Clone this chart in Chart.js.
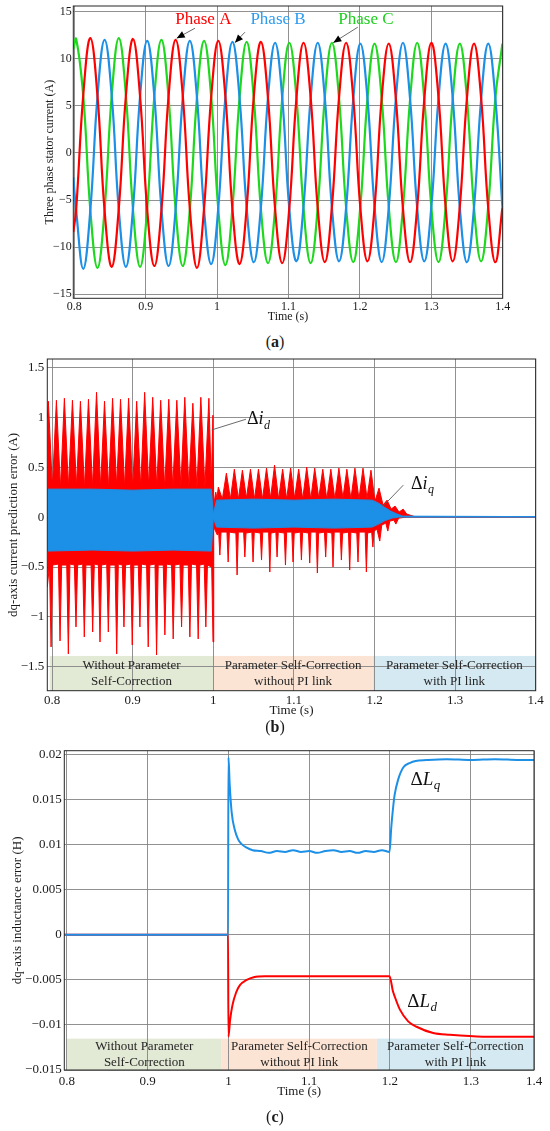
<!DOCTYPE html>
<html>
<head>
<meta charset="utf-8">
<script src="https://cdn.jsdelivr.net/npm/chart.js@4.4.1/dist/chart.umd.min.js"></script>
<style>
  html, body { margin: 0; padding: 0; background: #fff; }
  body { width: 550px; height: 1131px; position: relative; overflow: hidden; font-family: "Liberation Serif", "Times New Roman", serif; }
  .panel { position: absolute; left: 0; width: 550px; }
  .cap { position: absolute; left: 0; width: 550px; text-align: center; font-size: 16px; line-height: 20px; color: #1a1a1a; }
</style>
</head>
<body>
<div class="panel" style="top:0;height:324px"><canvas id="chartA"></canvas></div>
<div class="cap" style="top:332px">(<b>a</b>)</div>
<div class="panel" style="top:350px;height:368px"><canvas id="chartB"></canvas></div>
<div class="cap" style="top:717px">(<b>b</b>)</div>
<div class="panel" style="top:740px;height:359px"><canvas id="chartC"></canvas></div>
<div class="cap" style="top:1107px">(<b>c</b>)</div>

<script>
const SERIF = '"Liberation Serif", "Times New Roman", serif';
const INK = '#1a1a1a';
const GRID = '#858585';
const RED = '#ff0000';
const BLUE = '#1c8fe6';
const GREEN = '#1ed81e';

// ---- (a) three phase stator current, sampled every 1/6 period ----
const timeA = [0.7986,
  0.8026, 0.8126, 0.8225, 0.8325, 0.8424, 0.8524,
  0.8623, 0.8723, 0.8822, 0.8922, 0.9021, 0.9121,
  0.9220, 0.9320, 0.9419, 0.9519, 0.9618, 0.9718,
  0.9817, 0.9917, 1.0016, 1.0116, 1.0215, 1.0315,
  1.0414, 1.0514, 1.0613, 1.0713, 1.0812, 1.0912,
  1.1011, 1.1111, 1.1210, 1.1310, 1.1409, 1.1509,
  1.1608, 1.1708, 1.1807, 1.1907, 1.2006, 1.2106,
  1.2205, 1.2305, 1.2404, 1.2504, 1.2603, 1.2703,
  1.2802, 1.2902, 1.3001, 1.3101, 1.3200, 1.3300,
  1.3399, 1.3499, 1.3598, 1.3698, 1.3797, 1.3897,
  1.3996];
const phaseA = [-8.4,
  -6.0, 6.2, 12.2, 6.0, -6.1, -12.1,
  -5.9, 6.1, 12.1, 5.9, -6.0, -12.0,
  -6.1, 6.0, 12.0, 6.1, -5.9, -12.2,
  -5.9, 5.9, 11.9, 6.0, -6.0, -11.8,
  -5.8, 6.0, 11.8, 5.8, -5.9, -11.7,
  -5.9, 5.8, 11.7, 5.9, -5.8, -11.6,
  -5.7, 5.9, 11.7, 5.8, -5.8, -11.5,
  -5.8, 5.8, 11.6, 5.7, -5.9, -11.6,
  -5.8, 5.7, 11.7, 5.9, -5.7, -11.5,
  -5.7, 5.8, 11.6, 5.8, -5.8, -11.6,
  -5.8];
const phaseB = [-2.6,
  -6.1, -12.3, -6.0, 6.0, 12.0, 6.1,
  -6.0, -12.1, -5.9, 6.1, 11.9, 6.0,
  -5.9, -12.0, -6.0, 5.9, 11.9, 5.9,
  -6.0, -11.8, -5.9, 5.9, 11.8, 5.8,
  -5.8, -11.6, -5.8, 5.9, 11.7, 5.9,
  -5.9, -11.5, -5.7, 5.8, 11.7, 5.8,
  -5.8, -11.5, -5.8, 5.7, 11.6, 5.8,
  -5.7, -11.6, -5.8, 5.8, 11.7, 5.7,
  -5.8, -11.5, -5.7, 5.8, 11.6, 5.8,
  -5.8, -11.6, -5.8, 5.7, 11.6, 5.8,
  -5.8];
const phaseC = [11.0,
  12.1, 6.0, -6.1, -12.2, -6.0, 6.1,
  12.2, 6.1, -6.0, -12.1, -5.9, 6.0,
  12.0, 5.9, -6.0, -12.0, -6.0, 5.9,
  11.9, 6.0, -5.9, -11.9, -5.8, 5.9,
  11.8, 5.8, -5.9, -11.7, -5.9, 5.8,
  11.7, 5.9, -5.8, -11.7, -5.8, 5.9,
  11.7, 5.8, -5.8, -11.6, -5.7, 5.8,
  11.6, 5.8, -5.7, -11.6, -5.8, 5.7,
  11.7, 5.7, -5.8, -11.6, -5.8, 5.8,
  11.6, 5.8, -5.8, -11.5, -5.7, 5.8,
  11.6];

const xTicks = [0.8, 0.9, 1, 1.1, 1.2, 1.3, 1.4];
const xLabels = ['0.8', '0.9', '1', '1.1', '1.2', '1.3', '1.4'];
const yTicksA = [-15, -10, -5, 0, 5, 10, 15];
const yLabelsA = ['\u221215', '\u221210', '\u22125', '0', '5', '10', '15'];

// ---- (b) dq-axis current prediction error: envelopes of the ripple [t, value] ----
const idUpper = [[0.794, 1.0],
  [0.7953, 1.16], [0.8003, 0.30], [0.8053, 1.17], [0.8103, 0.29], [0.8152, 1.19], [0.8202, 0.30],
  [0.8252, 1.17], [0.8302, 0.31], [0.8351, 1.16], [0.8401, 0.29], [0.8451, 1.18], [0.8501, 0.30],
  [0.8551, 1.25], [0.8601, 0.30], [0.8650, 1.16], [0.8700, 0.29], [0.8750, 1.19], [0.8800, 0.31],
  [0.8849, 1.18], [0.8899, 0.30], [0.8949, 1.19], [0.8999, 0.29], [0.9049, 1.16], [0.9099, 0.30],
  [0.9148, 1.25], [0.9198, 0.31], [0.9248, 1.20], [0.9298, 0.30], [0.9347, 1.17], [0.9397, 0.29],
  [0.9447, 1.18], [0.9497, 0.30], [0.9547, 1.17], [0.9597, 0.31], [0.9646, 1.20], [0.9696, 0.30],
  [0.9746, 1.14], [0.9796, 0.29], [0.9845, 1.20], [0.9895, 0.30], [0.9945, 1.19], [0.9975, 0.32],
  [0.9995, 1.02], [1.0005, 0.12], [1.0030, 0.25], [1.0045, 0.19], [1.0062, 0.30], [1.0112, 0.18],
  [1.0162, 0.44], [1.0212, 0.18], [1.0261, 0.48], [1.0311, 0.18], [1.0361, 0.47], [1.0411, 0.19],
  [1.0461, 0.48], [1.0511, 0.18], [1.0560, 0.48], [1.0610, 0.18], [1.0660, 0.49], [1.0710, 0.19],
  [1.0760, 0.52], [1.0810, 0.18], [1.0860, 0.48], [1.0910, 0.18], [1.0959, 0.49], [1.1009, 0.19],
  [1.1059, 0.48], [1.1109, 0.18], [1.1159, 0.50], [1.1209, 0.18], [1.1258, 0.49], [1.1308, 0.19],
  [1.1358, 0.48], [1.1408, 0.18], [1.1458, 0.48], [1.1508, 0.18], [1.1558, 0.49], [1.1608, 0.19],
  [1.1657, 0.48], [1.1707, 0.18], [1.1757, 0.49], [1.1807, 0.18], [1.1857, 0.49], [1.1907, 0.19],
  [1.1956, 0.47], [1.2006, 0.16], [1.2056, 0.29], [1.2106, 0.12], [1.2156, 0.17], [1.2206, 0.08],
  [1.2255, 0.11], [1.2305, 0.05], [1.2355, 0.08], [1.2400, 0.03], [1.2500, 0.005], [1.4000, 0.005]];

const idLower = [[0.794, -0.70],
  [0.7967, -0.48], [0.7987, -1.30], [0.8007, -0.48], [0.8078, -0.47], [0.8098, -1.24], [0.8118, -0.48],
  [0.8181, -0.48], [0.8201, -1.37], [0.8221, -0.47], [0.8276, -0.48], [0.8296, -1.10], [0.8316, -0.48],
  [0.8379, -0.47], [0.8399, -1.20], [0.8419, -0.48], [0.8483, -0.48], [0.8503, -1.15], [0.8523, -0.47],
  [0.8574, -0.48], [0.8594, -1.25], [0.8614, -0.48], [0.8677, -0.47], [0.8697, -1.15], [0.8717, -0.48],
  [0.8781, -0.48], [0.8801, -1.37], [0.8821, -0.47], [0.8871, -0.48], [0.8891, -1.10], [0.8911, -0.48],
  [0.8974, -0.47], [0.8994, -1.28], [0.9014, -0.48], [0.9069, -0.48], [0.9089, -1.10], [0.9109, -0.47],
  [0.9172, -0.48], [0.9192, -1.30], [0.9212, -0.48], [0.9276, -0.47], [0.9296, -1.38], [0.9316, -0.48],
  [0.9379, -0.48], [0.9399, -1.18], [0.9419, -0.47], [0.9482, -0.48], [0.9502, -1.22], [0.9522, -0.48],
  [0.9586, -0.47], [0.9606, -1.10], [0.9626, -0.48], [0.9689, -0.48], [0.9709, -1.20], [0.9729, -0.47],
  [0.9792, -0.48], [0.9812, -1.22], [0.9832, -0.48], [0.9887, -0.47], [0.9907, -1.10], [0.9927, -0.48],
  [0.9980, -0.50], [0.9996, -1.25], [1.0005, -0.10],
  [1.0050, -0.18], [1.0066, -0.15], [1.0081, -0.38], [1.0096, -0.15],
  [1.0169, -0.15], [1.0184, -0.45], [1.0199, -0.15], [1.0280, -0.16], [1.0295, -0.58], [1.0310, -0.15],
  [1.0376, -0.15], [1.0391, -0.40], [1.0406, -0.16], [1.0478, -0.15], [1.0493, -0.45], [1.0508, -0.15],
  [1.0583, -0.16], [1.0598, -0.43], [1.0613, -0.15], [1.0686, -0.15], [1.0701, -0.55], [1.0716, -0.16],
  [1.0776, -0.15], [1.0791, -0.40], [1.0806, -0.15], [1.0880, -0.16], [1.0895, -0.48], [1.0910, -0.15],
  [1.0974, -0.15], [1.0989, -0.45], [1.1004, -0.16], [1.1078, -0.15], [1.1093, -0.43], [1.1108, -0.15],
  [1.1181, -0.16], [1.1196, -0.46], [1.1211, -0.15], [1.1276, -0.15], [1.1291, -0.56], [1.1306, -0.16],
  [1.1379, -0.15], [1.1394, -0.40], [1.1409, -0.15], [1.1470, -0.16], [1.1485, -0.50], [1.1500, -0.15],
  [1.1574, -0.15], [1.1589, -0.43], [1.1604, -0.16], [1.1677, -0.15], [1.1692, -0.53], [1.1707, -0.15],
  [1.1780, -0.16], [1.1795, -0.45], [1.1810, -0.15], [1.1884, -0.15], [1.1899, -0.55], [1.1914, -0.16],
  [1.1965, -0.15], [1.1980, -0.30], [1.1995, -0.14], [1.2030, -0.12], [1.2065, -0.24], [1.2090, -0.08],
  [1.2140, -0.06], [1.2165, -0.14], [1.2190, -0.04], [1.2240, -0.03], [1.2265, -0.07], [1.2300, -0.01],
  [1.2400, 0.0], [1.4000, 0.0]];

const iqUpper = [[0.794, 0.28], [0.85, 0.28], [0.90, 0.27], [0.95, 0.28], [0.9975, 0.28], [1.0, 0.03],
  [1.004, 0.17], [1.05, 0.18], [1.10, 0.17], [1.15, 0.18], [1.197, 0.17], [1.205, 0.14], [1.212, 0.10],
  [1.220, 0.06], [1.228, 0.03], [1.235, 0.01], [1.4, 0.005]];
const iqLower = [[0.794, -0.34], [0.85, -0.33], [0.90, -0.34], [0.95, -0.33], [0.9975, -0.34], [1.0, -0.01],
  [1.004, -0.10], [1.05, -0.11], [1.10, -0.10], [1.15, -0.11], [1.197, -0.10], [1.205, -0.07], [1.213, -0.035],
  [1.222, -0.01], [1.230, 0.0], [1.4, 0.0]];

const yTicksB = [-1.5, -1, -0.5, 0, 0.5, 1, 1.5];
const yLabelsB = ['\u22121.5', '\u22121', '\u22120.5', '0', '0.5', '1', '1.5'];

// ---- (c) dq-axis inductance error [t, value] ----
const dLq = [[0.7968, 0], [0.9995, 0], [1.0, 0.0197], [1.0015, 0.0168], [1.004, 0.0136], [1.008, 0.0116],
  [1.012, 0.0106], [1.016, 0.0101], [1.022, 0.0097], [1.03, 0.0094], [1.04, 0.0093], [1.05, 0.0091],
  [1.06, 0.0093], [1.07, 0.0092], [1.08, 0.0094], [1.09, 0.0092], [1.10, 0.0093], [1.11, 0.0091],
  [1.12, 0.0093], [1.13, 0.0094], [1.14, 0.0092], [1.15, 0.0093], [1.16, 0.0091], [1.17, 0.0093],
  [1.18, 0.0092], [1.19, 0.0094], [1.1995, 0.0092], [1.2015, 0.0118], [1.2035, 0.0138], [1.2057, 0.0155],
  [1.21, 0.0172], [1.2166, 0.0186], [1.225, 0.0191], [1.2318, 0.0193], [1.245, 0.0194], [1.27, 0.0195],
  [1.30, 0.0194], [1.33, 0.0195], [1.36, 0.0194], [1.3783, 0.0194]];
const dLd = [[0.7968, 0], [0.9995, 0], [1.0, -0.0113], [1.002, -0.0095], [1.005, -0.0078], [1.0095, -0.0064],
  [1.014, -0.0056], [1.0227, -0.0050], [1.0313, -0.0047], [1.045, -0.0046], [1.1, -0.0046], [1.1995, -0.0046],
  [1.2035, -0.0062], [1.2061, -0.0069], [1.2123, -0.0083], [1.2225, -0.0096], [1.2329, -0.0102],
  [1.2535, -0.0109], [1.2741, -0.0111], [1.3153, -0.0113], [1.3783, -0.0113]];

// the original axis stops short of 1.4 but the last label still reads 1.4
const xTicksC = [0.8, 0.9, 1, 1.1, 1.2, 1.3, 1.3783];
const yTicksC = [-0.015, -0.01, -0.005, 0, 0.005, 0.01, 0.015, 0.02];
const yLabelsC = ['\u22120.015', '\u22120.01', '\u22120.005', '0', '0.005', '0.01', '0.015', '0.02'];

// stage boxes along the bottom of (b) and (c)
const stageText = [['Without Parameter', 'Self-Correction'], ['Parameter Self-Correction', 'without PI link'], ['Parameter Self-Correction', 'with PI link']];
const stagesB = [[0.797, 1.0], [1.0, 1.198], [1.198, 1.4]];
const stagesC = [[0.8, 0.9917], [0.9917, 1.1838], [1.1838, 1.3783]];
const stageFill = ['#e2e9d5', '#fce4d4', '#d4e9f1'];

const pts = (xs, ys) => xs.map((x, i) => ({ x: x, y: ys[i] }));
const pairs = arr => arr.map(p => ({ x: p[0], y: p[1] }));

function xAxis(o) {
  return {
    type: 'linear', min: o.min, max: o.max,
    afterBuildTicks: s => { s.ticks = o.ticks.map(v => ({ value: v })); },
    afterFit: s => { s.height = o.height; s.paddingLeft = 0; s.paddingRight = 0; },
    ticks: { font: { family: SERIF, size: o.size }, color: INK, padding: o.pad, maxRotation: 0, autoSkip: false,
      callback: (v, i) => xLabels[i] },
    grid: { color: GRID, lineWidth: 0.9, drawTicks: false },
    border: { display: false },
    title: { display: true, text: 'Time (s)', color: INK, font: { family: SERIF, size: o.titleSize }, padding: 0 }
  };
}

function yAxis(o) {
  return {
    type: 'linear', min: o.min, max: o.max,
    afterBuildTicks: s => { s.ticks = o.ticks.map(v => ({ value: v })); },
    afterFit: s => { s.width = o.width; s.paddingTop = 0; s.paddingBottom = 0; },
    ticks: { font: { family: SERIF, size: o.size }, color: INK, padding: o.pad, autoSkip: false,
      callback: (v, i) => o.labels[i] },
    grid: { color: GRID, lineWidth: 0.9, drawTicks: false },
    border: { display: false },
    title: { display: true, text: o.title, color: INK, font: { family: SERIF, size: o.titleSize }, padding: { top: o.titlePad, bottom: 0 } }
  };
}

function baseOptions(padding, x, y) {
  return {
    responsive: true, maintainAspectRatio: false, animation: false,
    layout: { padding: padding },
    plugins: { legend: { display: false }, tooltip: { enabled: false } },
    elements: { point: { radius: 0 } },
    scales: { x: x, y: y }
  };
}

const frame = {
  id: 'frame',
  afterDraw(chart) {
    const a = chart.chartArea, ctx = chart.ctx;
    ctx.save();
    ctx.strokeStyle = '#262626';
    ctx.lineWidth = 1;
    ctx.strokeRect(a.left, a.top, a.right - a.left, a.bottom - a.top);
    ctx.restore();
  }
};

function stagePlugin(stages, top) {
  return {
    id: 'stages',
    beforeDraw(chart) {
      const { ctx, chartArea: a, scales: { x, y } } = chart;
      const yt = y.getPixelForValue(top);
      ctx.save();
      stages.forEach((s, i) => {
        const x0 = x.getPixelForValue(s[0]), x1 = x.getPixelForValue(s[1]);
        ctx.fillStyle = stageFill[i];
        ctx.fillRect(x0, yt, x1 - x0, a.bottom - yt);
      });
      ctx.restore();
    },
    afterDatasetsDraw(chart) {
      const { ctx, chartArea: a, scales: { x, y } } = chart;
      const yt = y.getPixelForValue(top);
      const mid = (yt + a.bottom) / 2;
      ctx.save();
      ctx.fillStyle = '#262626';
      ctx.font = '13px ' + SERIF;
      ctx.textAlign = 'center';
      ctx.textBaseline = 'middle';
      stages.forEach((s, i) => {
        const cx = (x.getPixelForValue(s[0]) + x.getPixelForValue(s[1])) / 2;
        ctx.fillText(stageText[i][0], cx, mid - 8);
        ctx.fillText(stageText[i][1], cx, mid + 8);
      });
      ctx.restore();
    }
  };
}

function drawSymbol(ctx, px, py, letter, sub, size) {
  ctx.textAlign = 'left';
  ctx.textBaseline = 'middle';
  ctx.fillStyle = '#111';
  ctx.font = size + 'px ' + SERIF;
  ctx.fillText('\u0394', px, py);
  let w = ctx.measureText('\u0394').width;
  ctx.font = 'italic ' + size + 'px ' + SERIF;
  ctx.fillText(letter, px + w, py);
  w += ctx.measureText(letter).width;
  ctx.font = 'italic ' + Math.round(size * 0.68) + 'px ' + SERIF;
  ctx.fillText(sub, px + w + 0.5, py + size * 0.32);
}

function leader(ctx, x, y, from, to) {
  ctx.strokeStyle = '#5a5a5a';
  ctx.lineWidth = 0.9;
  ctx.beginPath();
  ctx.moveTo(x.getPixelForValue(from[0]), y.getPixelForValue(from[1]));
  ctx.lineTo(x.getPixelForValue(to[0]), y.getPixelForValue(to[1]));
  ctx.stroke();
}

function symbolPlugin(notes, size) {
  return {
    id: 'symbols',
    afterDatasetsDraw(chart) {
      const { ctx, scales: { x, y } } = chart;
      ctx.save();
      notes.forEach(n => {
        if (n.from) leader(ctx, x, y, n.from, n.to);
        drawSymbol(ctx, x.getPixelForValue(n.at[0]), y.getPixelForValue(n.at[1]), n.letter, n.sub, size);
      });
      ctx.restore();
    }
  };
}

const phaseNotes = [
  { text: 'Phase A', color: RED, at: [0.9807, 14.2], tail: [0.969, 13.24], tip: [0.9434, 12.18] },
  { text: 'Phase B', color: '#2c9cef', at: [1.0853, 14.2], tail: [1.039, 12.82], tip: [1.025, 11.71] },
  { text: 'Phase C', color: '#1fcf1f', at: [1.2085, 14.2], tail: [1.197, 13.35], tip: [1.1627, 11.71] }
];

const phasePlugin = {
  id: 'phases',
  afterDatasetsDraw(chart) {
    const { ctx, scales: { x, y } } = chart;
    ctx.save();
    phaseNotes.forEach(n => {
      const tx = x.getPixelForValue(n.tail[0]), ty = y.getPixelForValue(n.tail[1]);
      const hx = x.getPixelForValue(n.tip[0]), hy = y.getPixelForValue(n.tip[1]);
      ctx.strokeStyle = '#6b6b6b';
      ctx.lineWidth = 1;
      ctx.beginPath(); ctx.moveTo(tx, ty); ctx.lineTo(hx, hy); ctx.stroke();
      const ang = Math.atan2(hy - ty, hx - tx);
      ctx.fillStyle = '#000';
      ctx.beginPath();
      ctx.moveTo(hx, hy);
      ctx.lineTo(hx - 8 * Math.cos(ang) + 3.5 * Math.sin(ang), hy - 8 * Math.sin(ang) - 3.5 * Math.cos(ang));
      ctx.lineTo(hx - 8 * Math.cos(ang) - 3.5 * Math.sin(ang), hy - 8 * Math.sin(ang) + 3.5 * Math.cos(ang));
      ctx.closePath(); ctx.fill();
      ctx.fillStyle = n.color;
      ctx.font = '17px ' + SERIF;
      ctx.textAlign = 'center';
      ctx.textBaseline = 'middle';
      ctx.fillText(n.text, x.getPixelForValue(n.at[0]), y.getPixelForValue(n.at[1]));
    });
    ctx.restore();
  }
};

// (a)
new Chart(document.getElementById('chartA'), {
  type: 'line',
  data: {
    datasets: [
      { data: pts(timeA, phaseA), borderColor: RED, borderWidth: 2.2, tension: 0.42 },
      { data: pts(timeA, phaseB), borderColor: BLUE, borderWidth: 2.2, tension: 0.42 },
      { data: pts(timeA, phaseC), borderColor: GREEN, borderWidth: 2.2, tension: 0.42 }
    ]
  },
  options: baseOptions({ top: 6, right: 47.3, left: 0, bottom: 0 },
    xAxis({ min: 0.7986, max: 1.4, ticks: xTicks, size: 12, pad: 1.2, height: 25.7, titleSize: 12 }),
    yAxis({ min: -15.43, max: 15.6, ticks: yTicksA, labels: yLabelsA, size: 12, pad: 1.6, width: 73.3,
      title: 'Three phase stator current (A)', titleSize: 12, titlePad: 42.8 })),
  plugins: [frame, phasePlugin]
});

// (b)
const env = (arr, color) => ({
  data: pairs(arr), borderColor: color, backgroundColor: color, borderWidth: 1,
  borderJoinStyle: 'round', fill: { value: 0 }, tension: 0
});
new Chart(document.getElementById('chartB'), {
  type: 'line',
  data: {
    datasets: [
      env(iqUpper, BLUE), env(iqLower, BLUE),
      env(idUpper, RED), env(idLower, RED)
    ]
  },
  options: baseOptions({ top: 9, right: 14.3, left: 0, bottom: 0 },
    xAxis({ min: 0.794, max: 1.4, ticks: xTicks, size: 13, pad: 2, height: 27.3, titleSize: 13 }),
    yAxis({ min: -1.738, max: 1.583, ticks: yTicksB, labels: yLabelsB, size: 13, pad: 3, width: 47.3,
      title: 'dq-axis current prediction error (A)', titleSize: 13, titlePad: 6.2 })),
  plugins: [frame, stagePlugin(stagesB, -1.39), symbolPlugin([
    { letter: 'i', sub: 'd', at: [1.0418, 0.975], from: [1.0405, 0.98], to: [0.998, 0.873] },
    { letter: 'i', sub: 'q', at: [1.2453, 0.33], from: [1.2357, 0.32], to: [1.2102, 0.106] }
  ], 18)]
});

// (c)
const xC = xAxis({ min: 0.7968, max: 1.3783, ticks: xTicksC, size: 13, pad: 3.9, height: 29, titleSize: 13 });
new Chart(document.getElementById('chartC'), {
  type: 'line',
  data: {
    datasets: [
      { data: pairs(dLq), borderColor: BLUE, borderWidth: 2, cubicInterpolationMode: 'monotone' },
      { data: pairs(dLd), borderColor: RED, borderWidth: 2, cubicInterpolationMode: 'monotone' }
    ]
  },
  options: baseOptions({ top: 10.7, right: 16, left: 0, bottom: 0 },
    xC,
    yAxis({ min: -0.015, max: 0.02044, ticks: yTicksC, labels: yLabelsC, size: 13, pad: 2.6, width: 64.3,
      title: 'dq-axis inductance error (H)', titleSize: 13, titlePad: 10.2 })),
  plugins: [frame, stagePlugin(stagesC, -0.01152), symbolPlugin([
    { letter: 'L', sub: 'q', at: [1.2253, 0.01722] },
    { letter: 'L', sub: 'd', at: [1.2213, -0.00741] }
  ], 19)]
});
</script>
</body>
</html>
